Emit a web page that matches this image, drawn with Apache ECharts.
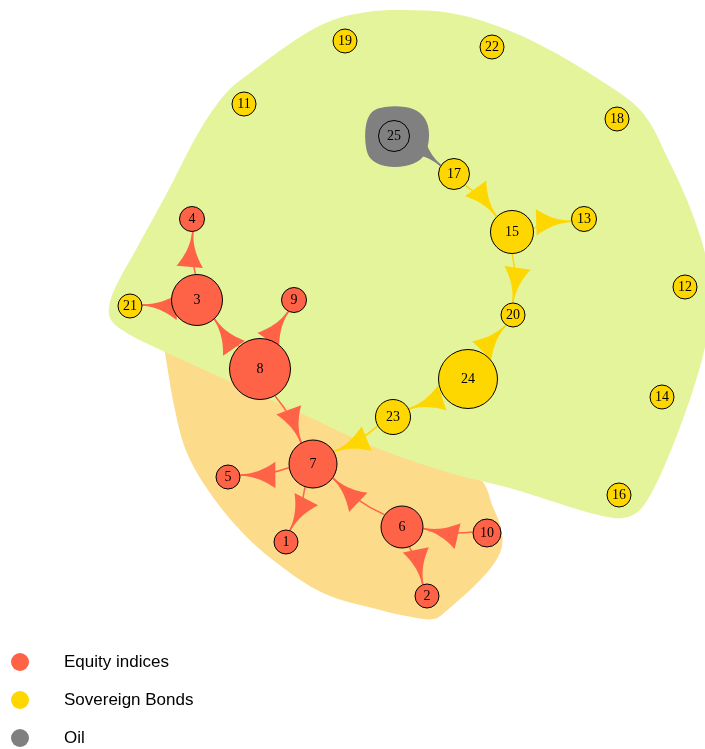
<!DOCTYPE html>
<html>
<head>
<meta charset="utf-8">
<script src="https://cdn.jsdelivr.net/npm/echarts@6/dist/echarts.min.js"></script>
<style>
  html, body { margin: 0; padding: 0; background: #fff; }
  #chart { width: 705px; height: 749px; }
</style>
</head>
<body>
<div id="chart"></div>
<script>
var groupNames = ['Equity indices', 'Sovereign Bonds', 'Oil'];
var groupColors = ['#ff6347', '#ffd700', '#808080'];

// nodes (layout in plot units), diameter and asset group
var nodeIds   = [1, 2, 3, 4, 5, 6, 7, 8, 9, 10, 11, 12, 13, 14, 15, 16, 17, 18, 19, 20, 21, 22, 23, 24, 25];
var nodeX     = [286, 427, 197, 192, 228, 402, 313, 260, 294, 487, 244, 685, 584, 662, 512, 619, 454, 617, 345, 513, 130, 492, 393, 468, 394];
var nodeY     = [542, 596, 300, 219, 477, 527, 464, 369, 300, 533, 104, 287, 219, 397, 232, 495, 174, 119, 41, 315, 306, 47, 417, 379, 136];
var nodeSize  = [25, 25, 52, 26, 25, 43, 49, 62, 26, 29, 25, 25, 26, 25, 44, 25, 32, 25, 25, 25, 25, 25, 36, 60, 32];
var nodeGroup = [0, 0, 0, 0, 0, 0, 0, 0, 0, 0, 1, 1, 1, 1, 1, 1, 1, 1, 1, 1, 1, 1, 1, 1, 2];

// directed links
var edgeFrom = [3, 3, 8, 8, 8, 23, 7, 7, 6, 10, 6, 25, 17, 15, 15, 24, 24];
var edgeTo   = [4, 21, 3, 9, 7, 7, 5, 1, 7, 6, 2, 17, 15, 13, 20, 20, 23];

// cluster outlines
var hullOrange = [[163, 338], [165, 353], [175, 410], [187, 453], [210, 493], [240, 530], [273, 560], [323, 593],
  [380, 610], [417, 618], [434, 619], [444, 613], [483, 577], [500, 553], [502, 533], [493, 507], [478, 478]];
var hullGreen = [[400, 10], [450, 13], [500, 27], [550, 50], [600, 80], [633, 103], [650, 123], [667, 157],
  [687, 200], [705, 253], [712, 300], [705, 347], [693, 390], [680, 427], [667, 460], [653, 490], [640, 510],
  [628, 517], [613, 518], [580, 510], [513, 489], [450, 473], [377, 448], [300, 413], [150, 345], [122, 330],
  [110, 318], [110, 302], [118, 282], [133, 255], [167, 193], [200, 130], [227, 92], [250, 73], [300, 37],
  [333, 20], [367, 12]];
var hullOil = [[366, 125], [372, 112], [385, 107], [405, 107], [420, 113], [428, 126], [428, 145], [421, 159],
  [405, 166], [385, 166], [371, 159], [366, 147]];

var hulls = [hullOrange, hullGreen, hullOil];
var hullColors = ['#fcdc8b', '#e4f49b', '#808080'];

var curve = 0.1;
var arrowLen = 35;
var arrowHalf = 12.5;

function nodeIndex(id) { return nodeIds.indexOf(id); }

function renderHull(params, api) {
  var pts = hulls[params.dataIndex].map(function (p) { return api.coord(p); });
  return {
    type: 'polygon',
    shape: { points: pts, smooth: 0.35 },
    style: { fill: hullColors[params.dataIndex] }
  };
}

function renderEdge(params, api) {
  var a = nodeIndex(api.value(0));
  var b = nodeIndex(api.value(1));
  var p = api.coord([nodeX[a], nodeY[a]]);
  var q = api.coord([nodeX[b], nodeY[b]]);
  var dx = q[0] - p[0], dy = q[1] - p[1];
  var L = Math.sqrt(dx * dx + dy * dy);
  var ux = dx / L, uy = dy / L;
  var ra = nodeSize[a] / 2, rb = nodeSize[b] / 2;
  var s = [p[0] + ux * ra, p[1] + uy * ra];
  var t = [q[0] - ux * rb, q[1] - uy * rb];
  var h = curve * (L - ra - rb);
  var c = [(s[0] + t[0]) / 2 + uy * h, (s[1] + t[1]) / 2 - ux * h];
  // arrow direction from 3/4 point of the curve to the tip
  var m = [0.0625 * s[0] + 0.375 * c[0] + 0.5625 * t[0], 0.0625 * s[1] + 0.375 * c[1] + 0.5625 * t[1]];
  var vx = t[0] - m[0], vy = t[1] - m[1];
  var vl = Math.sqrt(vx * vx + vy * vy);
  vx /= vl; vy /= vl;
  var nx = -vy, ny = vx;
  var pts = [];
  var N = 16, i, k, w;
  for (i = N; i >= 0; i--) {
    k = i / N;
    w = arrowHalf * k * k + 0.8;
    pts.push([t[0] - vx * arrowLen * k + nx * w, t[1] - vy * arrowLen * k + ny * w]);
  }
  for (i = 0; i <= N; i++) {
    k = i / N;
    w = arrowHalf * k * k + 0.8;
    pts.push([t[0] - vx * arrowLen * k - nx * w, t[1] - vy * arrowLen * k - ny * w]);
  }
  var col = groupColors[nodeGroup[a]];
  return {
    type: 'group',
    children: [
      {
        type: 'bezierCurve',
        shape: { x1: s[0], y1: s[1], x2: t[0], y2: t[1], cpx1: c[0], cpy1: c[1] },
        style: { stroke: col, lineWidth: 1.5, fill: null }
      },
      {
        type: 'polygon',
        shape: { points: pts },
        style: { fill: col }
      }
    ]
  };
}

var edgeData = edgeFrom.map(function (f, i) { return [f, edgeTo[i]]; });

var nodeSeries = groupNames.map(function (name, g) {
  var data = [];
  nodeIds.forEach(function (id, i) {
    if (nodeGroup[i] === g) data.push([nodeX[i], nodeY[i], nodeSize[i], id]);
  });
  return {
    name: name,
    type: 'scatter',
    z: 3,
    data: data,
    symbol: 'circle',
    symbolSize: function (v) { return v[2] - 1; },
    itemStyle: { color: groupColors[g], borderColor: '#000', borderWidth: 1, opacity: 1 },
    label: {
      show: true,
      position: 'inside',
      formatter: function (p) { return p.value[3]; },
      fontFamily: 'Liberation Serif',
      fontSize: 14,
      color: '#000'
    },
    emphasis: { disabled: true }
  };
});

var myChart = echarts.init(document.getElementById('chart'));
var option = {
  animation: false,
  backgroundColor: '#fff',
  grid: { left: 0, right: 0, top: 0, bottom: 0 },
  xAxis: { type: 'value', min: 0, max: 705, show: false },
  yAxis: { type: 'value', min: 0, max: 749, inverse: true, show: false },
  legend: {
    data: groupNames,
    orient: 'vertical',
    left: 11,
    top: 653,
    padding: 0,
    icon: 'circle',
    itemWidth: 18,
    itemHeight: 18,
    itemGap: 20,
    itemStyle: { borderWidth: 0 },
    selectedMode: false,
    textStyle: {
      fontFamily: 'Liberation Sans',
      fontSize: 17,
      color: '#000',
      padding: [0, 0, 0, 30]
    }
  },
  series: [
    {
      type: 'custom',
      z: 1,
      silent: true,
      clip: false,
      data: [0, 1, 2],
      renderItem: renderHull
    },
    {
      type: 'custom',
      z: 2,
      silent: true,
      clip: false,
      data: edgeData,
      renderItem: renderEdge
    }
  ].concat(nodeSeries)
};
myChart.setOption(option);
</script>
</body>
</html>
